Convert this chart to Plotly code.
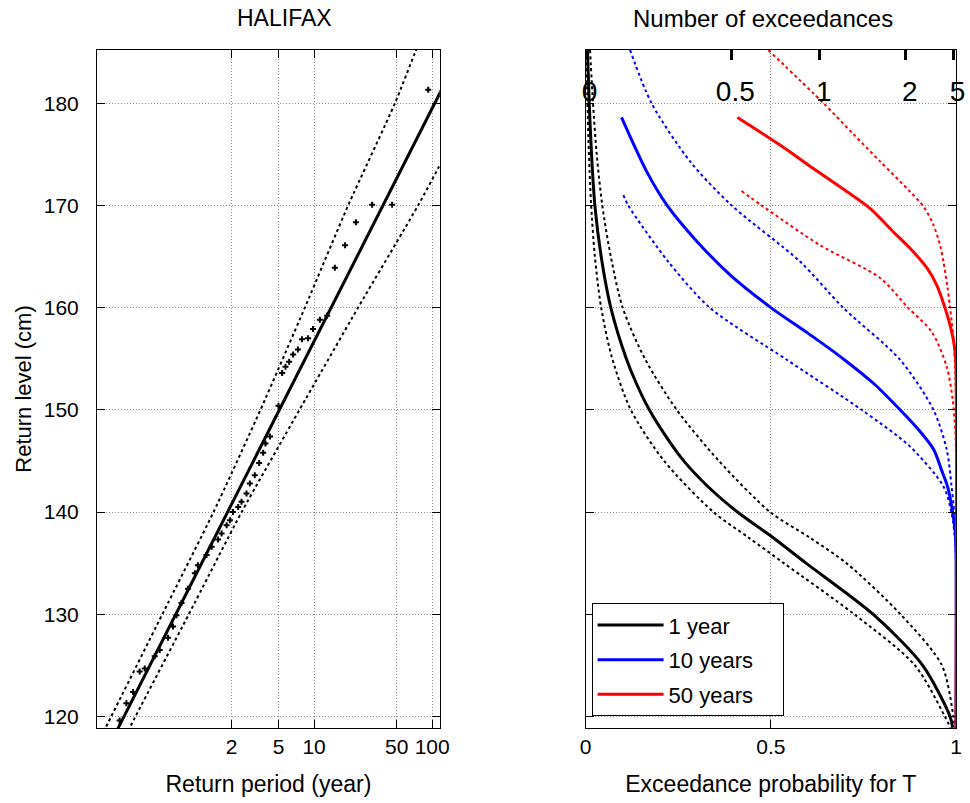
import numpy as np
import plotly.graph_objects as go

# ---------------- left panel: return level plot (HALIFAX) ----------------
obs_T = [92.5, 45.8, 31.0, 22.6, 18.3, 15.0, 12.9, 11.2, 9.8, 8.9, 7.9, 7.3, 6.65, 6.15,
         5.73, 5.37, 5.0, 4.24, 3.88, 3.71, 3.43, 3.15, 2.86, 2.68, 2.43, 2.28, 2.06,
         1.94, 1.82, 1.65, 1.54, 1.36, 1.23, 1.04, 0.98, 0.857, 0.755, 0.684, 0.64,
         0.581, 0.494, 0.448, 0.369, 0.334, 0.294, 0.258, 0.226]
obs_level = [181.3, 170.05, 170.05, 168.35, 166.1, 163.9, 159.2, 158.8, 157.9, 157.0, 156.9,
             155.9, 155.4, 154.7, 154.2, 153.6, 150.4, 147.4, 146.7, 145.8, 144.8, 143.6,
             142.8, 141.8, 141.0, 140.5, 140.0, 139.2, 138.7, 137.9, 137.3, 136.6, 135.8,
             134.8, 134.0, 132.5, 131.1, 129.9, 128.8, 127.7, 126.5, 125.9, 124.7, 124.4,
             122.4, 121.3, 119.6]

fit_T = [0.1, 200]
fit_level = [111.07, 186.37]

ci_up_T = [0.141, 0.192, 0.52, 1.41, 3.52, 8.36, 19.45, 48.4, 71.3, 89]
ci_up_level = [116.9, 120.0, 130.0, 140.0, 150.0, 160.0, 170.0, 180.0, 184.9, 187.7]
ci_lo_T = [0.141, 0.305, 0.871, 2.44, 7.53, 23.6, 76, 112, 126]
ci_lo_level = [112.3, 119.9, 130.0, 140.0, 150.0, 160.0, 170.0, 173.6, 174.7]

period_ticks = [2, 5, 10, 50, 100]

# ---------------- right panel: exceedance probability ----------------
lev_1 = [185.2, 180, 175, 170, 165, 160, 155, 152.5, 150, 147.5, 145, 142.5, 140, 137.6, 135,
         130, 125, 120, 118.9]
p_1 = [0.005, 0.0098, 0.016, 0.025, 0.042, 0.068, 0.11, 0.138, 0.172, 0.215, 0.265, 0.33,
       0.41, 0.502, 0.595, 0.776, 0.91, 0.984, 0.991]
lev_1_ci = [185.2, 180, 175, 170, 165, 160, 155, 150, 145, 140, 137.5, 135, 130, 125, 120, 118.9]
p_1_lo = [0.002, 0.005, 0.009, 0.015, 0.025, 0.042, 0.072, 0.122, 0.212, 0.345, 0.44, 0.535,
          0.725, 0.889, 0.970, 0.985]
p_1_hi = [0.012, 0.02, 0.03, 0.045, 0.068, 0.10, 0.16, 0.246, 0.36, 0.498, 0.605, 0.704, 0.85,
          0.962, 0.993, 0.997]

lev_10 = [178.6, 173.3, 170, 166.5, 163.2, 160, 157.5, 155, 152.5, 150, 148, 146.1, 144, 142.5,
          140, 138, 136, 118.9]
p_10 = [0.097, 0.165, 0.22, 0.30, 0.39, 0.50, 0.60, 0.695, 0.78, 0.849, 0.90, 0.94, 0.962,
        0.977, 0.991, 0.998, 1.0, 1.0]
lev_10_hi = [185.2, 180, 174.3, 170, 164.5, 160, 154.9, 150, 146.1, 142.5, 140, 137, 135, 118.9]
p_10_hi = [0.12, 0.178, 0.282, 0.394, 0.579, 0.695, 0.849, 0.939, 0.975, 0.988, 0.995, 0.999, 1.0, 1.0]
lev_10_lo = [171.0, 170, 164.5, 160, 154.9, 150, 146.4, 142.5, 139.9, 137, 135, 118.9]
p_10_lo = [0.102, 0.115, 0.223, 0.335, 0.543, 0.745, 0.876, 0.966, 0.988, 0.998, 1.0, 1.0]

lev_50 = [178.6, 175.9, 173.6, 171.35, 169.7, 167.4, 165.8, 163.9, 162.2, 160, 157.7, 155.9,
          154, 118.9]
p_50 = [0.41, 0.525, 0.615, 0.705, 0.768, 0.831, 0.876, 0.921, 0.948, 0.97, 0.988, 0.997, 1.0, 1.0]
lev_50_hi = [185.2, 180, 177, 174.3, 171.35, 169.9, 168.1, 166.1, 164.5, 162, 160, 157, 154,
             150, 118.9]
p_50_hi = [0.493, 0.642, 0.722, 0.795, 0.876, 0.912, 0.939, 0.957, 0.966, 0.977, 0.984, 0.993,
           0.998, 1.0, 1.0]
lev_50_lo = [171.4, 170, 166.1, 162.9, 160, 157.6, 154.2, 151, 148, 145, 118.9]
p_50_lo = [0.421, 0.475, 0.633, 0.795, 0.87, 0.935, 0.975, 0.991, 0.998, 1.0, 1.0]

n_exceed = [0, 0.5, 1, 2, 5]

FONT = "Liberation Sans"
GRID = "#8a8a8a"
y_range = [118.87, 185.2]
PAD = "\u00a0" * 4

fig = go.Figure()

# left panel
fig.add_trace(go.Scatter(x=ci_up_T, y=ci_up_level, mode="lines", showlegend=False,
                         line=dict(color="black", width=2, dash="dot", shape="spline", smoothing=0.6),
                         xaxis="x", yaxis="y"))
fig.add_trace(go.Scatter(x=ci_lo_T, y=ci_lo_level, mode="lines", showlegend=False,
                         line=dict(color="black", width=2, dash="dot", shape="spline", smoothing=0.6),
                         xaxis="x", yaxis="y"))
fig.add_trace(go.Scatter(x=fit_T, y=fit_level, mode="lines", showlegend=False,
                         line=dict(color="black", width=3), xaxis="x", yaxis="y"))
fig.add_trace(go.Scatter(x=obs_T, y=obs_level, mode="markers", showlegend=False,
                         marker=dict(symbol="cross", size=5, color="black"), xaxis="x", yaxis="y"))

# right panel
curves = [
    ("1 year", "black", lev_1, p_1, lev_1_ci, p_1_lo, lev_1_ci, p_1_hi),
    ("10 years", "blue", lev_10, p_10, lev_10_lo, p_10_lo, lev_10_hi, p_10_hi),
    ("50 years", "red", lev_50, p_50, lev_50_lo, p_50_lo, lev_50_hi, p_50_hi),
]
for name, col, lv, pv, lvl, pl, lvh, ph in curves:
    fig.add_trace(go.Scatter(x=pl, y=lvl, mode="lines", showlegend=False,
                             line=dict(color=col, width=2, dash="dot", shape="spline", smoothing=0.8),
                             xaxis="x2", yaxis="y2"))
    fig.add_trace(go.Scatter(x=ph, y=lvh, mode="lines", showlegend=False,
                             line=dict(color=col, width=2, dash="dot", shape="spline", smoothing=0.8),
                             xaxis="x2", yaxis="y2"))
for name, col, lv, pv, lvl, pl, lvh, ph in curves:
    fig.add_trace(go.Scatter(x=pv, y=lv, mode="lines", name=name + PAD, legendgroup=name,
                             line=dict(color=col, width=3, shape="spline", smoothing=0.8),
                             xaxis="x2", yaxis="y2"))

# empty trace so the top "number of exceedances" axis gets drawn
fig.add_trace(go.Scatter(x=[], y=[], showlegend=False, hoverinfo="skip", xaxis="x3", yaxis="y2"))

axis_common = dict(showline=True, linecolor="black", linewidth=1, ticks="inside",
                   tickcolor="black", ticklen=8, zeroline=False, showgrid=True,
                   gridcolor=GRID, gridwidth=1, griddash="1px,2px", automargin=False,
                   tickfont=dict(family=FONT, size=21, color="black"))

fig.update_layout(
    width=970, height=803,
    margin=dict(l=97.3, r=14, t=50, b=75),
    paper_bgcolor="white", plot_bgcolor="white",
    font=dict(family=FONT, size=21, color="black"),
    xaxis=dict(domain=[0, 0.3991], type="log", range=[np.log10(0.1455), np.log10(116)],
               tickvals=period_ticks, ticktext=[str(t) for t in period_ticks],
               mirror="ticks", anchor="y",
               title=dict(text="Return period (year)", standoff=18, font=dict(size=23)),
               **axis_common),
    yaxis=dict(domain=[0, 1], range=y_range, dtick=10, tick0=120, mirror="ticks", anchor="x",
               ticklabelstandoff=13,
               title=dict(text="Return level (cm)", standoff=6, font=dict(size=22)),
               **axis_common),
    xaxis2=dict(domain=[0.5688, 1], range=[0, 1], tickvals=[0, 0.5, 1], ticktext=["0", "0.5", "1"],
                mirror=True, anchor="y2",
                title=dict(text="Exceedance probability for T", standoff=18, font=dict(size=23)),
                **axis_common),
    yaxis2=dict(domain=[0, 1], range=y_range, dtick=10, tick0=120, mirror="ticks", anchor="x2",
                showticklabels=False, **axis_common),
    xaxis3=dict(overlaying="x2", side="top", anchor="y2", range=[0, 1], automargin=False,
                tickvals=[1 - np.exp(-n) for n in n_exceed], ticktext=[f"{n:g}" for n in n_exceed],
                ticks="inside", ticklen=10, tickwidth=3, tickcolor="black",
                ticklabelposition="inside", ticklabeloverflow="allow", ticklabelstandoff=24,
                ticklabelshift=4,
                showgrid=False, showline=False, zeroline=False,
                tickfont=dict(family=FONT, size=28, color="black")),
    legend=dict(x=0.5758, y=0.184, xanchor="left", yanchor="top", bgcolor="white",
                bordercolor="black", borderwidth=1, font=dict(family=FONT, size=22),
                tracegroupgap=3, itemwidth=66),
    annotations=[
        dict(text="HALIFAX", x=0.2186, y=1 + 32 / 678, xref="paper", yref="paper",
             xanchor="center", yanchor="middle", showarrow=False, font=dict(family=FONT, size=23)),
        dict(text="Number of exceedances", x=0.7752, y=1 + 32 / 678, xref="paper",
             yref="paper", xanchor="center", yanchor="middle", showarrow=False,
             font=dict(family=FONT, size=24)),
    ],
)

fig.write_html("out.html", config={"displayModeBar": False},
               post_script="document.body.style.margin='0px';")
